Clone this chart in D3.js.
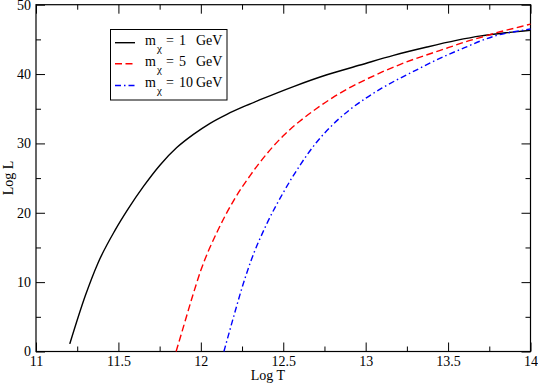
<!DOCTYPE html>
<html><head><meta charset="utf-8">
<script src="https://cdn.jsdelivr.net/npm/d3@7"></script>
<style>
html,body{margin:0;padding:0;background:#fff;}
svg{display:block;}
svg text{font-family:"Liberation Serif","Times New Roman",serif !important;}
</style></head>
<body><svg id="c" width="538" height="384"></svg>
<script>
// Data
const xBlack = [11.205,11.30,11.375,11.48,11.56,11.652,11.753,11.854,11.955,12.056,12.158,12.259,12.36,12.562,12.765,12.967,13.169,13.372,13.55,13.70,13.85,14.00];
const yBlack = [1.1,8.1,12.7,17.5,20.6,23.8,26.9,29.4,31.3,32.9,34.2,35.3,36.3,38.2,39.9,41.3,42.7,43.9,44.85,45.5,45.95,46.3];
const xRed = [11.85,11.90,11.95,12.00,12.10,12.20,12.30,12.40,12.50,12.60,12.70,12.80,12.90,13.00,13.10,13.20,13.30,13.40,13.50,13.60,13.70,13.80,13.90,14.00];
const yRed = [0.0,4.0,8.0,11.7,17.3,21.8,25.4,28.5,31.1,33.2,35.0,36.6,38.0,39.2,40.3,41.3,42.2,43.0,43.8,44.6,45.3,46.0,46.6,47.2];
const xBlue = [12.14,12.20,12.25,12.30,12.40,12.50,12.60,12.70,12.80,12.90,13.00,13.10,13.20,13.30,13.40,13.50,13.60,13.70,13.80,13.90,14.00];
const yBlue = [0.0,5.1,9.2,12.8,18.4,22.9,26.8,30.1,32.7,34.8,36.5,38.0,39.3,40.5,41.7,42.8,43.8,44.8,45.6,46.1,46.5];
const seriesNames = ["1", "5", "10"];
const xTicks = [11, 11.5, 12, 12.5, 13, 13.5, 14];
const xTickLabels = ["11", "11.5", "12", "12.5", "13", "13.5", "14"];
const xMinor = [11.25, 11.75, 12.25, 12.75, 13.25, 13.75];
const yTicks = [0, 10, 20, 30, 40, 50];
const yMinor = [5, 15, 25, 35, 45];

const FONT = '"Liberation Serif","Times New Roman",serif';
const svg = d3.select("#c");
const L = 36, R = 530.5, T = 4.7, B = 351.5;
const x = d3.scaleLinear().domain([11, 14]).range([L, R]);
const y = d3.scaleLinear().domain([0, 50]).range([B, T]);

function styleAxis(g){
  g.attr("font-family", FONT).attr("font-size", 14);
  g.select(".domain").remove();
  g.selectAll(".tick line").attr("stroke", "#000").attr("stroke-width", 1);
  g.selectAll("text").style("font-family", FONT).style("font-size", "14px").attr("fill", "#000");
}
// bottom
svg.append("g").attr("transform", `translate(0,${B})`)
  .call(d3.axisBottom(x).tickValues(xTicks).tickFormat((d,i)=>xTickLabels[i]).tickSizeInner(-9).tickSizeOuter(0).tickPadding(5)).call(styleAxis);
svg.append("g").attr("transform", `translate(0,${B})`)
  .call(d3.axisBottom(x).tickValues(xMinor).tickFormat("").tickSizeInner(-5).tickSizeOuter(0)).call(styleAxis);
// top
svg.append("g").attr("transform", `translate(0,${T})`)
  .call(d3.axisTop(x).tickValues(xTicks).tickFormat("").tickSizeInner(-9).tickSizeOuter(0)).call(styleAxis);
svg.append("g").attr("transform", `translate(0,${T})`)
  .call(d3.axisTop(x).tickValues(xMinor).tickFormat("").tickSizeInner(-5).tickSizeOuter(0)).call(styleAxis);
// left
svg.append("g").attr("transform", `translate(${L},0)`)
  .call(d3.axisLeft(y).tickValues(yTicks).tickFormat(d3.format("d")).tickSizeInner(-9).tickSizeOuter(0).tickPadding(5)).call(styleAxis);
svg.append("g").attr("transform", `translate(${L},0)`)
  .call(d3.axisLeft(y).tickValues(yMinor).tickFormat("").tickSizeInner(-5).tickSizeOuter(0)).call(styleAxis);
// right
svg.append("g").attr("transform", `translate(${R},0)`)
  .call(d3.axisRight(y).tickValues(yTicks).tickFormat("").tickSizeInner(-9).tickSizeOuter(0)).call(styleAxis);
svg.append("g").attr("transform", `translate(${R},0)`)
  .call(d3.axisRight(y).tickValues(yMinor).tickFormat("").tickSizeInner(-5).tickSizeOuter(0)).call(styleAxis);

// frame
svg.append("rect").attr("x", L).attr("y", T).attr("width", R-L).attr("height", B-T)
  .attr("fill", "none").attr("stroke", "#000").attr("stroke-width", 1.2);

// lines
const line = d3.line().x(d=>x(d[0])).y(d=>y(d[1])).curve(d3.curveMonotoneX);
const series = [
  {xs:xBlack, ys:yBlack, color:"#000000", dash:null},
  {xs:xRed, ys:yRed, color:"#ff0000", dash:"7,3.5"},
  {xs:xBlue, ys:yBlue, color:"#0000ff", dash:"6,3,1.5,3"}
];
series.forEach(s=>{
  svg.append("path").datum(s.xs.map((v,i)=>[v, s.ys[i]]))
    .attr("d", line).attr("fill","none").attr("stroke", s.color)
    .attr("stroke-width", 1.4).attr("stroke-dasharray", s.dash);
});

// axis titles
svg.append("text").attr("x", 268).attr("y", 379.5).attr("text-anchor","middle")
  .style("font-family", FONT).style("font-size","14px").text("Log T");
svg.append("text").attr("transform","translate(13,178) rotate(-90)").attr("text-anchor","middle")
  .style("font-family", FONT).style("font-size","14px").text("Log L");

// legend
const lg = svg.append("g");
lg.append("rect").attr("x", 110.5).attr("y", 29.5).attr("width", 116.5).attr("height", 70.5)
  .attr("fill","#fff").attr("stroke","#000").attr("stroke-width",1);
const rowsY = [42.7, 63.8, 85.5];
series.forEach((s,i)=>{
  const ly = rowsY[i];
  lg.append("line").attr("x1",115).attr("x2",135).attr("y1",ly).attr("y2",ly)
    .attr("stroke", s.color).attr("stroke-width",1.4).attr("stroke-dasharray", s.dash);
  const base = ly + 1.8;
  const t = (xx, yy, sz, txt) => lg.append("text").attr("x",xx).attr("y",yy)
    .style("font-family", FONT).style("font-size", sz+"px").text(txt);
  t(145, base, 14, "m");
  t(157, base+7, 11, "χ");
  t(166, base, 14, "=");
  t(179, base, 14, seriesNames[i]);
  t(196, base, 14, "GeV");
});
</script></body></html>
